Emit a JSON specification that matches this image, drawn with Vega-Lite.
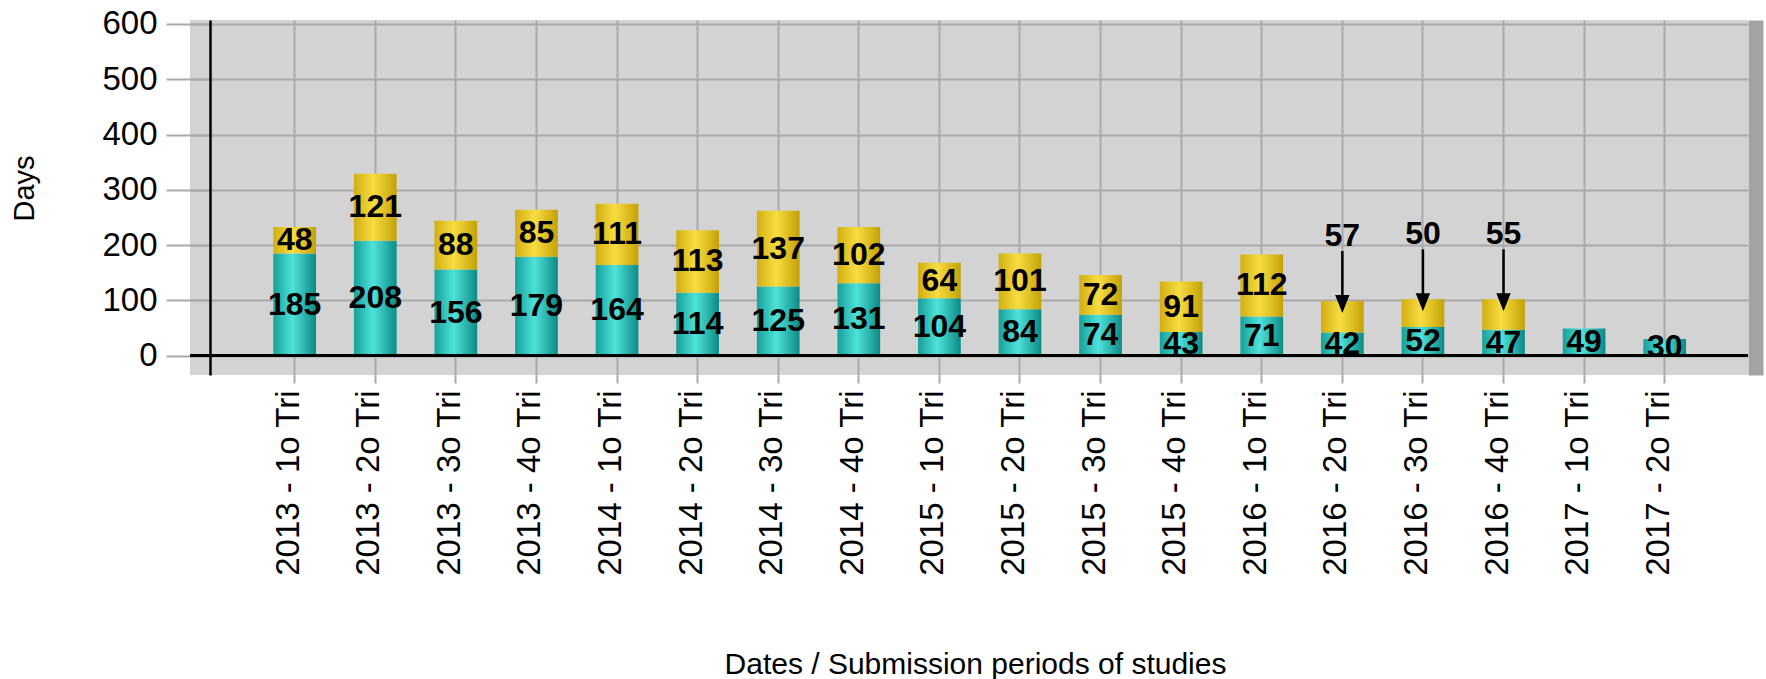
{
  "$schema": "https://vega.github.io/schema/vega-lite/v6.json",
  "autosize": {"type": "none"},
  "padding": {"left": 190, "top": 20, "right": 18, "bottom": 304},
  "width": 1558,
  "height": 355,
  "background": "white",
  "view": {"fill": "#D3D3D3", "stroke": null},
  "config": {
    "font": "Liberation Sans",
    "axis": {"labelFont": "Liberation Sans", "titleFont": "Liberation Sans", "labelColor": "black", "titleColor": "black", "titleFontWeight": "normal"}
  },
  "data": {
    "values": [
      {"period": "2013 - 1o Tri", "stage": "Stage 1", "days": 185},
      {"period": "2013 - 1o Tri", "stage": "Stage 2", "days": 48},
      {"period": "2013 - 2o Tri", "stage": "Stage 1", "days": 208},
      {"period": "2013 - 2o Tri", "stage": "Stage 2", "days": 121},
      {"period": "2013 - 3o Tri", "stage": "Stage 1", "days": 156},
      {"period": "2013 - 3o Tri", "stage": "Stage 2", "days": 88},
      {"period": "2013 - 4o Tri", "stage": "Stage 1", "days": 179},
      {"period": "2013 - 4o Tri", "stage": "Stage 2", "days": 85},
      {"period": "2014 - 1o Tri", "stage": "Stage 1", "days": 164},
      {"period": "2014 - 1o Tri", "stage": "Stage 2", "days": 111},
      {"period": "2014 - 2o Tri", "stage": "Stage 1", "days": 114},
      {"period": "2014 - 2o Tri", "stage": "Stage 2", "days": 113},
      {"period": "2014 - 3o Tri", "stage": "Stage 1", "days": 125},
      {"period": "2014 - 3o Tri", "stage": "Stage 2", "days": 137},
      {"period": "2014 - 4o Tri", "stage": "Stage 1", "days": 131},
      {"period": "2014 - 4o Tri", "stage": "Stage 2", "days": 102},
      {"period": "2015 - 1o Tri", "stage": "Stage 1", "days": 104},
      {"period": "2015 - 1o Tri", "stage": "Stage 2", "days": 64},
      {"period": "2015 - 2o Tri", "stage": "Stage 1", "days": 84},
      {"period": "2015 - 2o Tri", "stage": "Stage 2", "days": 101},
      {"period": "2015 - 3o Tri", "stage": "Stage 1", "days": 74},
      {"period": "2015 - 3o Tri", "stage": "Stage 2", "days": 72},
      {"period": "2015 - 4o Tri", "stage": "Stage 1", "days": 43},
      {"period": "2015 - 4o Tri", "stage": "Stage 2", "days": 91},
      {"period": "2016 - 1o Tri", "stage": "Stage 1", "days": 71},
      {"period": "2016 - 1o Tri", "stage": "Stage 2", "days": 112},
      {"period": "2016 - 2o Tri", "stage": "Stage 1", "days": 42},
      {"period": "2016 - 2o Tri", "stage": "Stage 2", "days": 57},
      {"period": "2016 - 3o Tri", "stage": "Stage 1", "days": 52},
      {"period": "2016 - 3o Tri", "stage": "Stage 2", "days": 50},
      {"period": "2016 - 4o Tri", "stage": "Stage 1", "days": 47},
      {"period": "2016 - 4o Tri", "stage": "Stage 2", "days": 55},
      {"period": "2017 - 1o Tri", "stage": "Stage 1", "days": 49},
      {"period": "2017 - 2o Tri", "stage": "Stage 1", "days": 30}
    ]
  },
  "transform": [
    {"stack": "days", "groupby": ["period"], "sort": [{"field": "stage", "order": "ascending"}], "as": ["d0", "d1"]}
  ],
  "encoding": {
    "x": {
      "field": "period", "type": "nominal", "sort": null,
      "scale": {"type": "band", "paddingInner": 0.47, "paddingOuter": 0.9013, "align": 0.5736, "round": false},
      "axis": {
        "title": "Dates / Submission periods of studies",
        "titleFontSize": 30, "titleX": 785, "titleY": 298, "titleBaseline": "alphabetic", "titleAlign": "center",
        "labelAngle": -90, "labelFontSize": 33, "labelPadding": 7, "labelOffset": -6, "labelLimit": 0,
        "domain": false, "ticks": true, "tickSize": 8, "tickColor": "#A9A9A9", "tickWidth": 2,
        "grid": true, "gridColor": "#A9A9A9", "gridWidth": 2, "bandPosition": 0.5
      }
    }
  },
  "layer": [
    {
      "mark": {"type": "bar"},
      "encoding": {
        "y": {
          "field": "d0", "type": "quantitative",
          "scale": {"domain": [-34.9, 607.2], "nice": false, "zero": false},
          "axis": {
            "orient": "left", "values": [0, 100, 200, 300, 400, 500, 600], "offset": -20,
            "title": "Days", "titleFontSize": 29, "titleX": -186, "titleY": 168, "titleAngle": -90, "titleAlign": "center", "titleBaseline": "middle",
            "labelFontSize": 33, "labelPadding": 9,
            "domain": true, "domainColor": "black", "domainWidth": 2.5,
            "ticks": true, "tickSize": 44, "tickColor": "#A9A9A9", "tickWidth": 2,
            "grid": true, "gridColor": "#A9A9A9", "gridWidth": 2
          }
        },
        "y2": {"field": "d1"},
        "fill": {
          "condition": {
            "test": "datum.stage === 'Stage 1'",
            "value": {"gradient": "linear", "x1": 0, "y1": 0, "x2": 1, "y2": 0,
              "stops": [{"offset": 0, "color": "#16A09A"}, {"offset": 0.45, "color": "#4EE2DA"}, {"offset": 1, "color": "#0C8A85"}]}
          },
          "value": {"gradient": "linear", "x1": 0, "y1": 0, "x2": 1, "y2": 0,
            "stops": [{"offset": 0, "color": "#D2AE10"}, {"offset": 0.45, "color": "#F7DD42"}, {"offset": 1, "color": "#C4A106"}]}
        }
      }
    },
    {
      "mark": {"type": "rule", "color": "black", "strokeWidth": 2.5},
      "encoding": {
        "x": null,
        "y": {
          "datum": 0, "type": "quantitative",
          "scale": {"domain": [-34.9, 607.2], "nice": false, "zero": false},
          "axis": {"orient": "right", "domain": true, "domainColor": "#A3A3A3", "domainWidth": 15, "offset": 7.5, "ticks": false, "labels": false, "grid": false, "title": null}
        }
      }
    },
    {
      "transform": [
        {"filter": "!(datum.stage === 'Stage 2' && indexof(['2016 - 2o Tri', '2016 - 3o Tri', '2016 - 4o Tri'], datum.period) >= 0)"}
      ],
      "mark": {"type": "text", "font": "Liberation Sans", "fontSize": 32, "fontWeight": "bold", "color": "black", "baseline": "middle", "align": "center"},
      "encoding": {
        "y": {
          "field": "days", "type": "quantitative", "stack": "zero", "bandPosition": 0.5,
          "scale": {"domain": [-34.9, 607.2], "nice": false, "zero": false},
          "axis": null
        },
        "detail": {"field": "stage"},
        "order": {"field": "stage"},
        "text": {"field": "days"}
      }
    },
    {
      "transform": [
        {"filter": {"and": [{"field": "stage", "equal": "Stage 2"}, {"field": "period", "oneOf": ["2016 - 2o Tri", "2016 - 3o Tri", "2016 - 4o Tri"]}]}}
      ],
      "layer": [
        {
          "mark": {"type": "text", "font": "Liberation Sans", "fontSize": 32, "fontWeight": "bold", "color": "black", "baseline": "middle", "align": "center", "yOffset": -65},
          "encoding": {
            "y": {"field": "d1", "type": "quantitative", "scale": {"domain": [-34.9, 607.2], "nice": false, "zero": false}, "axis": null},
            "text": {"field": "days"}
          }
        },
        {
          "mark": {"type": "rule", "color": "black", "strokeWidth": 2.5, "yOffset": -50, "y2Offset": -4},
          "encoding": {
            "y": {"field": "d1", "type": "quantitative", "scale": {"domain": [-34.9, 607.2], "nice": false, "zero": false}, "axis": null},
            "y2": {"field": "d1"}
          }
        },
        {
          "mark": {"type": "point", "filled": true, "color": "black", "opacity": 1, "shape": "M-0.8,-1L0.8,-1L0,1Z", "size": 324, "yOffset": 3},
          "encoding": {
            "y": {"field": "d1", "type": "quantitative", "scale": {"domain": [-34.9, 607.2], "nice": false, "zero": false}, "axis": null}
          }
        }
      ]
    }
  ],
  "resolve": {"axis": {"y": "independent"}}
}
